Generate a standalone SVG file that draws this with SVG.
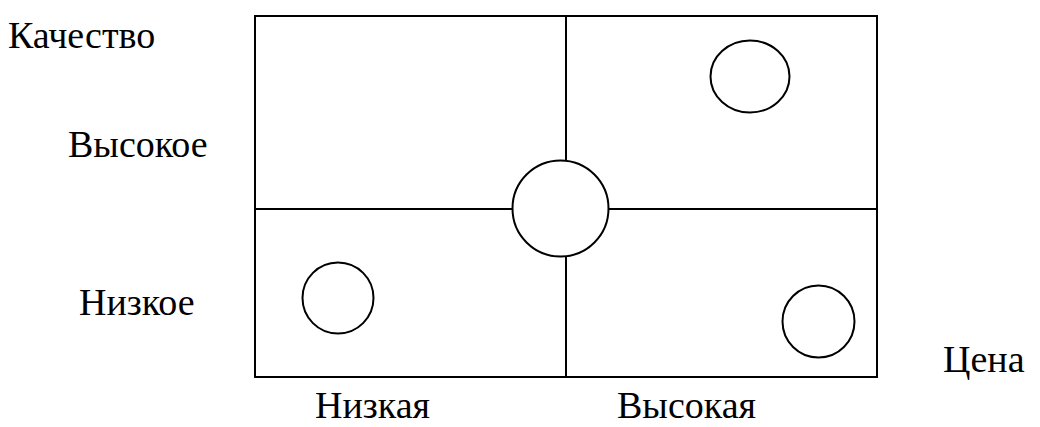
<svg xmlns="http://www.w3.org/2000/svg" width="1040" height="427" viewBox="0 0 1040 427">
<style>
.l{stroke:#000;stroke-width:2;fill:none}
.c{stroke:#000;stroke-width:2;fill:#fff}
.t{font-size:38px;fill:#000}
</style>
<rect width="1040" height="427" fill="#fff"/>
<g id="grid">
<rect class="l" x="255" y="16" width="622" height="361"/>
<line class="l" x1="566" y1="16" x2="566" y2="377"/>
<line class="l" x1="255" y1="209" x2="877" y2="209"/>
</g>
<g id="center"><circle class="c" cx="560.5" cy="208.5" r="48"/></g>
<g id="topright"><ellipse class="c" cx="750" cy="76.5" rx="39.5" ry="36"/></g>
<g id="bottomleft"><circle class="c" cx="338" cy="298" r="35.5"/></g>
<g id="bottomright"><circle class="c" cx="818.5" cy="321.5" r="36"/></g>
<g id="labels" font-family="'Liberation Serif', serif">
<text class="t" x="8" y="48">Качество</text>
<text class="t" x="68" y="157">Высокое</text>
<text class="t" x="79" y="315">Низкое</text>
<text class="t" x="943" y="372">Цена</text>
<text class="t" x="315" y="418">Низкая</text>
<text class="t" x="617" y="418">Высокая</text>
</g>
</svg>
